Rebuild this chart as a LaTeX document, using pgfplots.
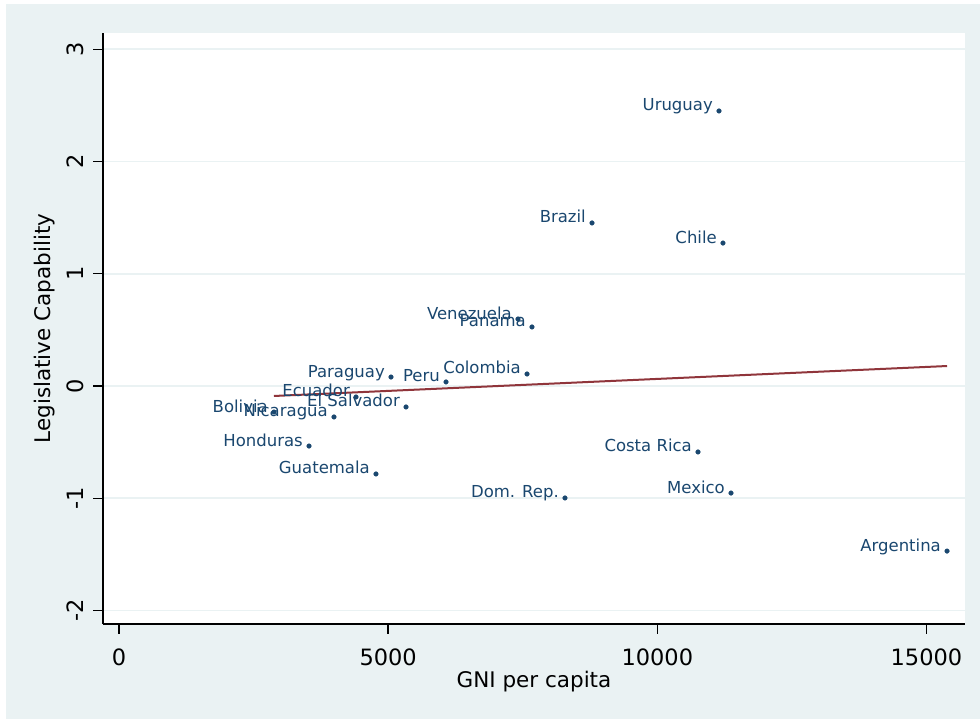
\documentclass[border=0pt]{standalone}
\usepackage{pgfplots}
\pgfplotsset{compat=1.18}
\usepackage{pgfplotstable}
\usepackage{fontspec}
\setmainfont{DejaVu Sans}
\definecolor{bgc}{RGB}{234,242,243}
\definecolor{gridc}{RGB}{234,242,243}
\definecolor{navy}{RGB}{26,71,111}
\definecolor{maroonc}{RGB}{144,53,59}
\pgfplotstableread[col sep=comma,row sep=\\]{
x,y,label\\
11146,2.451,Uruguay\\
8787,1.453,Brazil\\
11220,1.274,Chile\\
7412,0.597,Venezuela\\
7672,0.526,Panama\\
5053,0.080,Paraguay\\
6075,0.036,Peru\\
7580,0.107,Colombia\\
4403,-0.098,Ecuador\\
5332,-0.187,El Salvador\\
2879,-0.232,Bolivia\\
3994,-0.276,Nicaragua\\
3530,-0.535,Honduras\\
4774,-0.784,Guatemala\\
8285,-0.998,Dom. Rep.\\
10756,-0.588,Costa Rica\\
11369,-0.954,Mexico\\
15382,-1.471,Argentina\\
}\datatable
\begin{document}
\begin{tikzpicture}
\useasboundingbox (0,0) rectangle (980pt,719pt);
\fill[white] (0,0) rectangle (980pt,719pt);
\fill[bgc] (6pt,0pt) rectangle (980pt,715pt);
\begin{axis}[
  at={(103pt,95pt)}, anchor=south west,
  scale only axis, width=862pt, height=591pt,
  xmin=-297, xmax=15716, ymin=-2.121, ymax=3.146,
  axis background/.style={fill=white},
  axis lines*=left,
  axis line style={black, line width=1.4pt},
  tick align=outside,
  major tick length=10pt,
  tick style={black, line width=1.4pt},
  scaled x ticks=false, scaled y ticks=false,
  xtick={0,5000,10000,15000},
  xticklabels={0,5000,10000,15000},
  ytick={-2,-1,0,1,2,3},
  yticklabels={-2,-1,0,1,2,3},
  ymajorgrids,
  grid style={gridc, line width=1.8pt},
  ticklabel style={font=\fontsize{22.5}{24}\selectfont, black},
  xticklabel style={anchor=base, yshift=-32pt},
  yticklabel style={rotate=90, anchor=south},
  yticklabel shift={6pt},
  xlabel={GNI per capita},
  ylabel={Legislative Capability},
  every axis x label/.style={at={([yshift=-64pt]axis description cs:0.5,0)}, anchor=base, font=\fontsize{21.5}{24}\selectfont, black},
  every axis y label/.style={at={([xshift=-58pt]axis description cs:0,0.5)}, anchor=center, rotate=90, font=\fontsize{21.5}{24}\selectfont, black},
  clip=false,
]
\addplot[maroonc, line width=2pt] coordinates {(2879,-0.089) (15382,0.178)};
\addplot[only marks, mark=*, mark size=2.3pt, navy,
  nodes near coords, point meta=explicit symbolic,
  every node near coord/.style={anchor=base east, inner sep=0pt, xshift=-6pt, text=navy, font=\fontsize{16.5}{18}\selectfont}]
  table[x=x, y=y, meta=label] {\datatable};
\end{axis}
\end{tikzpicture}
\end{document}
